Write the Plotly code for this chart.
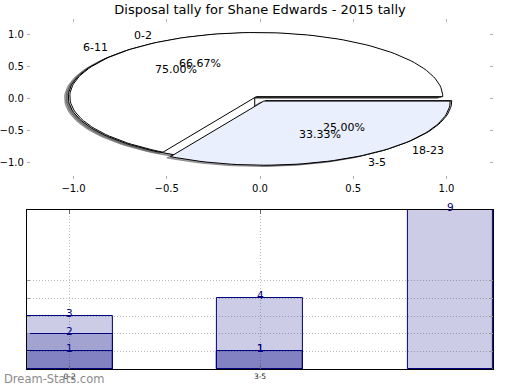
import math
import plotly.graph_objects as go

# ---------------- data ----------------
title_text = "Disposal tally for Shane Edwards - 2015 tally"

pie_front_labels = ["0-2", "3-5"]
pie_front_values = [2, 1]
pie_back_labels = ["6-11", "18-23"]
pie_back_values = [3, 1]
pie_colors = ["#ffffff", "#e9effc"]

bar_categories = ["0-2", "3-5", "18-23"]
bar_tick_labels = ["0-2", "3-5"]
bar_series_a = [3, 4, 9]
bar_series_b = [2, 1, None]
bar_series_c = [1, 1, None]
bar_ytick_vals = [0, 1, 2, 3, 4, 5]

pie_tick_vals = [-1.0, -0.5, 0.0, 0.5, 1.0]
pie_tick_text = ["\u22121.0", "\u22120.5", "0.0", "0.5", "1.0"]

# ---------------- style constants ----------------
EXPLODE = 0.04
SHADOW_OFF = -0.02
FONT = "DejaVu Sans"
W, H = 520, 390

fig = go.Figure()


def wedge_geom(values):
    total = float(sum(values))
    out = []
    t = 0.0
    for v in values:
        frac = v / total
        t1, t2 = t, t + 360.0 * frac
        tm = math.radians((t1 + t2) / 2)
        cx = EXPLODE * math.cos(tm)
        cy = EXPLODE * math.sin(tm)
        n = max(int((t2 - t1) / 2), 8)
        xs = [cx]
        ys = [cy]
        for k in range(n + 1):
            a = math.radians(t1 + (t2 - t1) * k / n)
            xs.append(cx + math.cos(a))
            ys.append(cy + math.sin(a))
        xs.append(cx)
        ys.append(cy)
        out.append(dict(xs=xs, ys=ys, cx=cx, cy=cy, tm=tm, frac=frac))
        t = t2
    return out


pies = [(pie_back_labels, pie_back_values), (pie_front_labels, pie_front_values)]
geoms = [wedge_geom(vals) for _, vals in pies]

# shadows below all wedges
for g in geoms:
    for wd in g:
        fig.add_trace(go.Scatter(
            x=[x + SHADOW_OFF for x in wd["xs"]], y=[y + SHADOW_OFF for y in wd["ys"]],
            mode="lines", fill="toself", fillcolor="rgba(77,77,77,0.5)",
            line=dict(color="rgba(77,77,77,0.5)", width=1),
            hoverinfo="skip", showlegend=False, xaxis="x", yaxis="y"))

annotations = []
for (labels, vals), g in zip(pies, geoms):
    for i, wd in enumerate(g):
        fig.add_trace(go.Scatter(
            x=wd["xs"], y=wd["ys"], mode="lines", fill="toself",
            fillcolor=pie_colors[i % len(pie_colors)],
            line=dict(color="black", width=1),
            hoverinfo="skip", showlegend=False, xaxis="x", yaxis="y"))
        xt = wd["cx"] + 1.1 * math.cos(wd["tm"])
        yt = wd["cy"] + 1.1 * math.sin(wd["tm"])
        annotations.append(dict(
            x=xt, y=yt, xref="x", yref="y", text=labels[i], showarrow=False,
            xanchor="left" if xt > 0 else "right", yanchor="middle",
            font=dict(family=FONT, size=11, color="black")))
        xp = wd["cx"] + 0.6 * math.cos(wd["tm"])
        yp = wd["cy"] + 0.6 * math.sin(wd["tm"])
        annotations.append(dict(
            x=xp, y=yp, xref="x", yref="y", text="%1.2f%%" % (wd["frac"] * 100),
            showarrow=False, xanchor="center", yanchor="middle",
            font=dict(family=FONT, size=11, color="black")))

# ---------------- bars ----------------
xpos = list(range(len(bar_categories)))
for series in [bar_series_a, bar_series_b, bar_series_c]:
    fig.add_trace(go.Bar(
        x=xpos, y=series, width=0.45,
        marker=dict(color="rgba(0,0,128,0.2)", line=dict(color="#000080", width=1)),
        hoverinfo="skip", showlegend=False, xaxis="x2", yaxis="y2"))
    for i, v in enumerate(series):
        if v is None:
            continue
        annotations.append(dict(
            x=xpos[i], y=v, xref="x2", yref="y2", text=str(v), showarrow=False,
            xanchor="center", yanchor="middle", yshift=3,
            font=dict(family=FONT, size=10.5, color="#000080")))

annotations.append(dict(
    x=0, y=(H - 379) / H, xref="paper", yref="paper", text="Dream-Stats.com",
    showarrow=False, xanchor="left", yanchor="middle",
    font=dict(family=FONT, size=11.5, color="#8c8c8c")))

xdom = [25 / W, 493 / W]
top_dom = [(H - 179) / H, (H - 18.7) / H]
bot_dom = [(H - 369) / H, (H - 210) / H]

fig.update_layout(
    width=W, height=H, margin=dict(l=0, r=0, t=0, b=0),
    paper_bgcolor="white", plot_bgcolor="white",
    barmode="overlay", bargap=0,
    font=dict(family=FONT, size=10, color="black"),
    title=dict(text=title_text, x=0.5, xanchor="center", y=(H - 9.5) / H,
               yanchor="middle", font=dict(family=FONT, size=13, color="black")),
    xaxis=dict(domain=xdom, range=[-1.25, 1.25], tickvals=pie_tick_vals,
               ticktext=pie_tick_text, ticks="inside", ticklen=3, tickwidth=1,
               tickcolor="#b0b0b0", showline=True, linecolor="rgba(0,0,0,0)",
               mirror="ticks", showgrid=False, zeroline=False,
               tickfont=dict(family=FONT, size=10, color="black"), anchor="y"),
    yaxis=dict(domain=top_dom, range=[-1.25, 1.25], tickvals=pie_tick_vals,
               ticktext=pie_tick_text, ticks="inside", ticklen=3, tickwidth=1,
               tickcolor="#b0b0b0", showline=True, linecolor="rgba(0,0,0,0)",
               mirror="ticks", showgrid=False, zeroline=False,
               tickfont=dict(family=FONT, size=10, color="black"), anchor="x"),
    xaxis2=dict(domain=xdom, range=[-0.225, 2.225], tickvals=xpos[:len(bar_tick_labels)],
                ticktext=bar_tick_labels, ticks="inside", ticklen=4, tickwidth=1,
                tickcolor="#666666", showline=True, linecolor="black", linewidth=1,
                mirror="ticks", showgrid=True, gridcolor="#bdbdbd", griddash="1px,2px",
                gridwidth=1, zeroline=False, layer="above traces",
                tickfont=dict(family=FONT, size=7.5, color="#222222"), anchor="y2"),
    yaxis2=dict(domain=bot_dom, range=[0, 9], tickvals=bar_ytick_vals,
                showticklabels=False, ticks="inside", ticklen=3, tickwidth=1,
                tickcolor="#999999", showline=True, linecolor="black", linewidth=1,
                mirror="ticks", showgrid=True, gridcolor="#bdbdbd", griddash="1px,2px",
                gridwidth=1, zeroline=False, layer="above traces", anchor="x2"),
    annotations=annotations,
)

fig.write_html("out.html", config={"displayModeBar": False},
               post_script="document.body.style.margin='0px';document.body.style.overflow='hidden';")
